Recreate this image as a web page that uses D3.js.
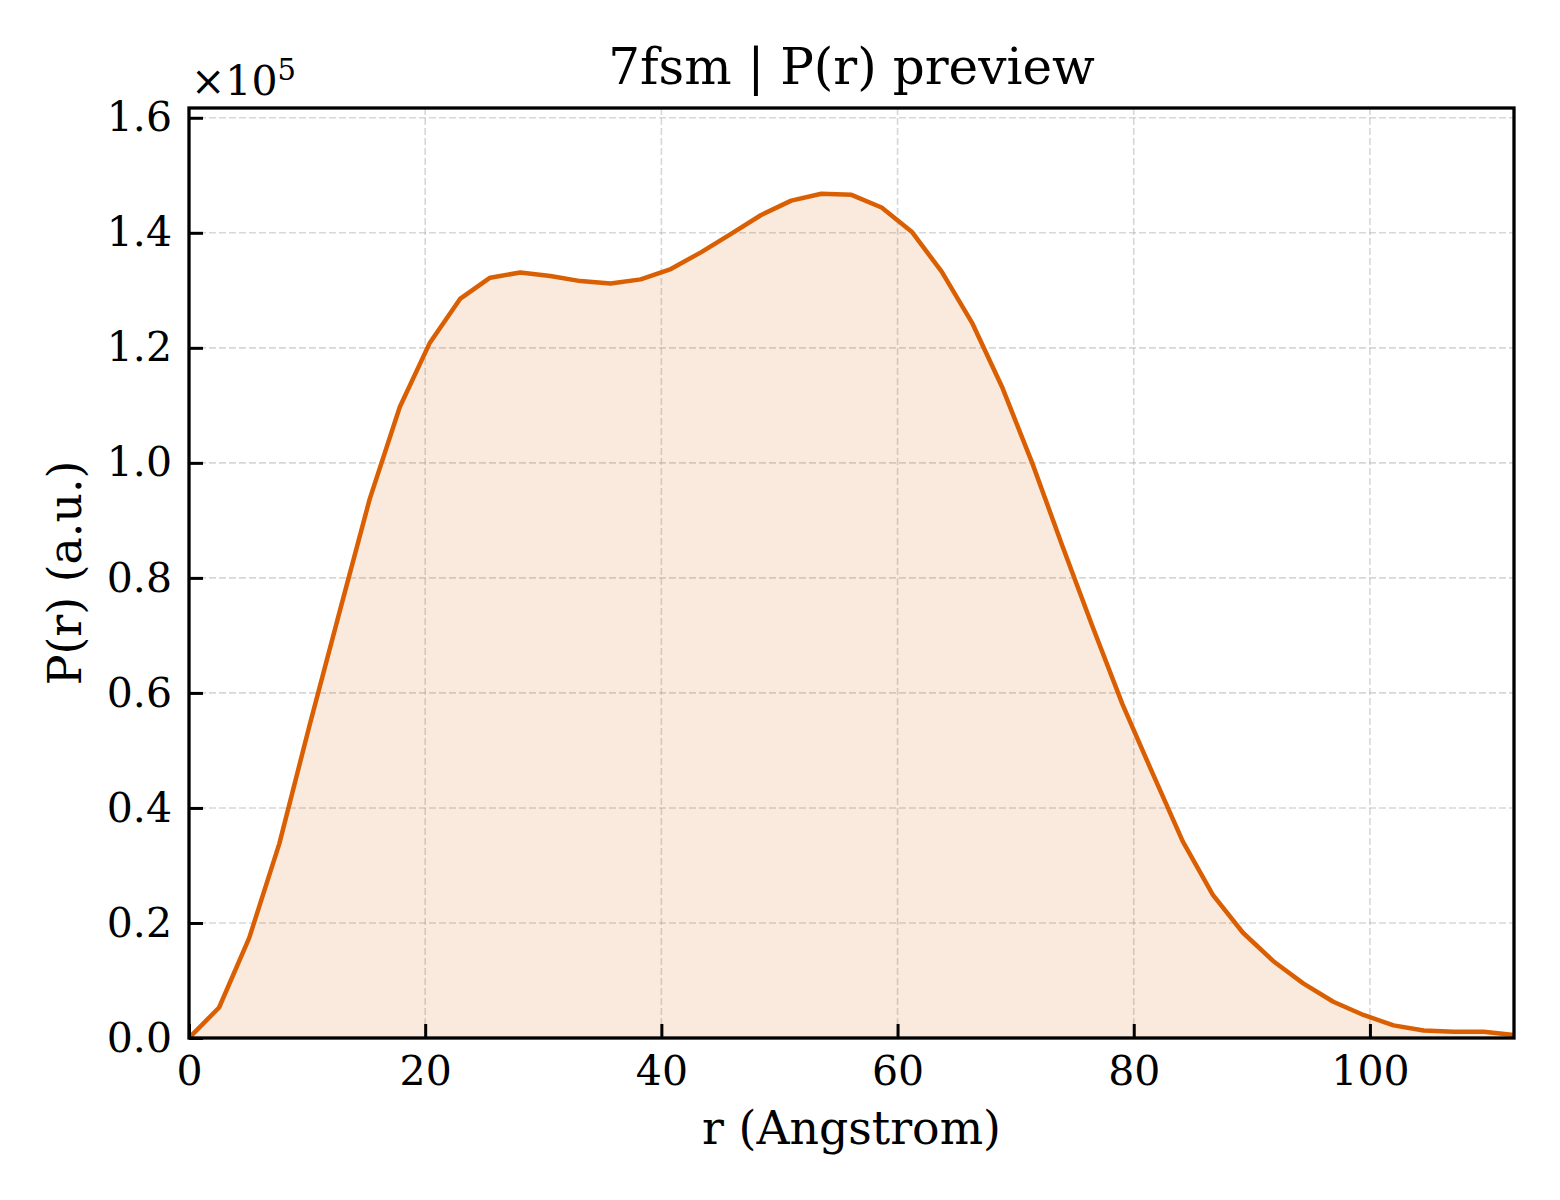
<!DOCTYPE html>
<html>
<head>
<meta charset="utf-8">
<script src="https://cdn.jsdelivr.net/npm/d3@7"></script>
<style>
  body { margin: 0; background: #fff; }
  text { font-family: "DejaVu Serif", serif; fill: #000; }
</style>
</head>
<body>
<div id="chart"></div>
<script>
// r grid (Angstrom), step 2.55
const rStep = 2.55;
const rValues = d3.range(45).map(i => +(i * rStep).toFixed(2));
// P(r) values
const prValues = [
    0, 5300, 17400, 33800, 54300, 74100, 93700, 109700, 120900, 128500,
    132200, 133100, 132500, 131600, 131200, 131900, 133700, 136600, 139800, 143100,
    145600, 146800, 146600, 144400, 140200, 133200, 124400, 113200, 100000, 85600,
    71600, 58000, 46000, 34200, 24900, 18300, 13400, 9500, 6300, 4000,
    2200, 1300, 1100, 1100, 500
];
const yTicks = [0, 20000, 40000, 60000, 80000, 100000, 120000, 140000, 160000];
const xTicks = [0, 20, 40, 60, 80, 100];

const title = "7fsm | P(r) preview";
const xLabel = "r (Angstrom)";
const yLabel = "P(r) (a.u.)";

const width = 1560, height = 1200;
const margin = {left: 189, right: 46, top: 108, bottom: 162};
const color = "#d95f02";

const data = rValues.map((r, i) => ({r: r, p: prValues[i]}));

const svg = d3.select("#chart").append("svg")
    .attr("width", width)
    .attr("height", height);

const x = d3.scaleLinear()
    .domain([0, d3.max(rValues)])
    .range([margin.left, width - margin.right]);
const y = d3.scaleLinear()
    .domain([0, 161700])
    .range([height - margin.bottom, margin.top]);

svg.append("clipPath").attr("id", "clip")
    .append("rect")
    .attr("x", margin.left).attr("y", margin.top)
    .attr("width", width - margin.left - margin.right)
    .attr("height", height - margin.top - margin.bottom);

// grid
const grid = svg.append("g").attr("class", "grid");
grid.selectAll("line.gx").data(xTicks).enter().append("line")
    .attr("x1", d => x(d)).attr("x2", d => x(d))
    .attr("y1", margin.top).attr("y2", height - margin.bottom);
grid.selectAll("line.gy").data(yTicks).enter().append("line")
    .attr("y1", d => y(d)).attr("y2", d => y(d))
    .attr("x1", margin.left).attr("x2", width - margin.right);
grid.selectAll("line")
    .attr("stroke", "#b0b0b0")
    .attr("stroke-opacity", 0.5)
    .attr("stroke-width", 1.6)
    .attr("stroke-dasharray", "7,3");

// filled area + curve
const plot = svg.append("g").attr("clip-path", "url(#clip)");
plot.append("path")
    .datum(data)
    .attr("fill", color)
    .attr("fill-opacity", 0.13)
    .attr("d", d3.area().x(d => x(d.r)).y0(y(0)).y1(d => y(d.p)));
plot.append("path")
    .datum(data)
    .attr("fill", "none")
    .attr("stroke", color)
    .attr("stroke-width", 4.5)
    .attr("stroke-linejoin", "round")
    .attr("d", d3.line().x(d => x(d.r)).y(d => y(d.p)));

// axes with inward ticks
const xAxis = svg.append("g")
    .attr("transform", "translate(0," + (height - margin.bottom) + ")")
    .call(d3.axisBottom(x).tickValues(xTicks).tickSizeInner(-14).tickSizeOuter(0).tickPadding(30)
        .tickFormat(d3.format("d")));
const yAxis = svg.append("g")
    .attr("transform", "translate(" + margin.left + ",0)")
    .call(d3.axisLeft(y).tickValues(yTicks).tickSizeInner(-14).tickSizeOuter(0).tickPadding(31)
        .tickFormat(d => (d / 1e5).toFixed(1)));
[xAxis, yAxis].forEach(a => {
    a.select(".domain").remove();
    a.selectAll(".tick line").attr("stroke", "#000").attr("stroke-width", 3);
    a.selectAll(".tick text").style("font-size", "41px").style("font-family", "DejaVu Serif, serif");
});
xAxis.selectAll(".tick text").attr("dy", "0.71em").attr("y", 18);
yAxis.selectAll(".tick text").attr("x", -17);

// frame
svg.append("rect")
    .attr("x", margin.left).attr("y", margin.top)
    .attr("width", width - margin.left - margin.right)
    .attr("height", height - margin.top - margin.bottom)
    .attr("fill", "none")
    .attr("stroke", "#000")
    .attr("stroke-width", 3.3);

// offset text
const off = svg.append("text")
    .attr("x", 191).attr("y", 95)
    .style("font-size", "41px");
off.append("tspan").text("\u00d710");
off.append("tspan").attr("dy", -15).style("font-size", "29px").text("5");

// title and labels
svg.append("text")
    .attr("x", (margin.left + width - margin.right) / 2)
    .attr("y", 84)
    .attr("text-anchor", "middle")
    .style("font-size", "50px")
    .text(title);
svg.append("text")
    .attr("x", (margin.left + width - margin.right) / 2)
    .attr("y", 1144)
    .attr("text-anchor", "middle")
    .style("font-size", "45.8px")
    .text(xLabel);
svg.append("text")
    .attr("transform", "translate(81," + ((margin.top + height - margin.bottom) / 2) + ") rotate(-90)")
    .attr("text-anchor", "middle")
    .style("font-size", "45.8px")
    .text(yLabel);
</script>
</body>
</html>
